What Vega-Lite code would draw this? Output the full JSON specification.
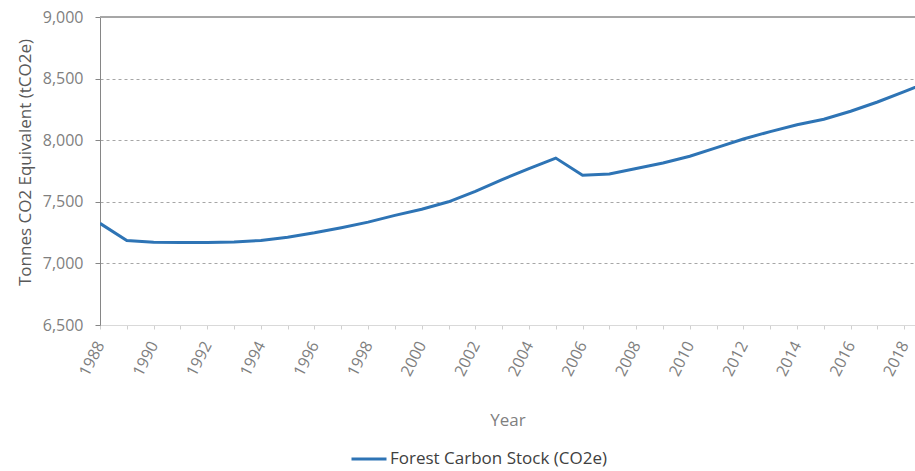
{
  "$schema": "https://vega.github.io/schema/vega-lite/v6.json",
  "width": 815,
  "height": 308,
  "autosize": {"type": "none"},
  "padding": {"left": 100, "top": 17, "right": 0, "bottom": 146},
  "background": "white",
  "config": {"view": {"stroke": null}, "font": "Open Sans"},
  "data": {
    "values": [
      {"year": 1988, "value": 7325, "series": "Forest Carbon Stock (CO2e)"},
      {"year": 1989, "value": 7185, "series": "Forest Carbon Stock (CO2e)"},
      {"year": 1990, "value": 7172, "series": "Forest Carbon Stock (CO2e)"},
      {"year": 1991, "value": 7170, "series": "Forest Carbon Stock (CO2e)"},
      {"year": 1992, "value": 7170, "series": "Forest Carbon Stock (CO2e)"},
      {"year": 1993, "value": 7174, "series": "Forest Carbon Stock (CO2e)"},
      {"year": 1994, "value": 7186, "series": "Forest Carbon Stock (CO2e)"},
      {"year": 1995, "value": 7212, "series": "Forest Carbon Stock (CO2e)"},
      {"year": 1996, "value": 7248, "series": "Forest Carbon Stock (CO2e)"},
      {"year": 1997, "value": 7290, "series": "Forest Carbon Stock (CO2e)"},
      {"year": 1998, "value": 7335, "series": "Forest Carbon Stock (CO2e)"},
      {"year": 1999, "value": 7390, "series": "Forest Carbon Stock (CO2e)"},
      {"year": 2000, "value": 7440, "series": "Forest Carbon Stock (CO2e)"},
      {"year": 2001, "value": 7500, "series": "Forest Carbon Stock (CO2e)"},
      {"year": 2002, "value": 7585, "series": "Forest Carbon Stock (CO2e)"},
      {"year": 2003, "value": 7680, "series": "Forest Carbon Stock (CO2e)"},
      {"year": 2004, "value": 7770, "series": "Forest Carbon Stock (CO2e)"},
      {"year": 2005, "value": 7855, "series": "Forest Carbon Stock (CO2e)"},
      {"year": 2006, "value": 7715, "series": "Forest Carbon Stock (CO2e)"},
      {"year": 2007, "value": 7725, "series": "Forest Carbon Stock (CO2e)"},
      {"year": 2008, "value": 7770, "series": "Forest Carbon Stock (CO2e)"},
      {"year": 2009, "value": 7815, "series": "Forest Carbon Stock (CO2e)"},
      {"year": 2010, "value": 7870, "series": "Forest Carbon Stock (CO2e)"},
      {"year": 2011, "value": 7940, "series": "Forest Carbon Stock (CO2e)"},
      {"year": 2012, "value": 8010, "series": "Forest Carbon Stock (CO2e)"},
      {"year": 2013, "value": 8070, "series": "Forest Carbon Stock (CO2e)"},
      {"year": 2014, "value": 8125, "series": "Forest Carbon Stock (CO2e)"},
      {"year": 2015, "value": 8170, "series": "Forest Carbon Stock (CO2e)"},
      {"year": 2016, "value": 8235, "series": "Forest Carbon Stock (CO2e)"},
      {"year": 2017, "value": 8310, "series": "Forest Carbon Stock (CO2e)"},
      {"year": 2018, "value": 8395, "series": "Forest Carbon Stock (CO2e)"},
      {"year": 2019, "value": 8480, "series": "Forest Carbon Stock (CO2e)"}
    ]
  },
  "layer": [
    {
      "mark": {"type": "rule", "color": "#a6a6a6", "strokeWidth": 1},
      "encoding": {"y": {"datum": 9000, "type": "quantitative"}}
    },
    {
      "mark": {"type": "line", "clip": true, "strokeWidth": 3, "color": "#2E74B5"},
      "encoding": {
        "x": {
          "field": "year",
          "type": "quantitative",
          "scale": {"domain": [1988, 2018.4], "nice": false, "zero": false},
          "axis": {
            "values": [1988,1989,1990,1991,1992,1993,1994,1995,1996,1997,1998,1999,2000,2001,2002,2003,2004,2005,2006,2007,2008,2009,2010,2011,2012,2013,2014,2015,2016,2017,2018],
            "format": "d",
            "labelExpr": "datum.value % 2 === 0 ? datum.label : ''",
            "labelOverlap": false,
            "labelAngle": -63,
            "labelPadding": 13,
            "labelColor": "#7f7f7f",
            "labelFontSize": 16,
            "grid": false,
            "domainColor": "#d9d9d9",
            "tickColor": "#d0d0d0",
            "tickSize": 4,
            "title": "Year",
            "titleColor": "#7f7f7f",
            "titleFontWeight": "normal",
            "titleFontSize": 17,
            "titlePadding": 34
          }
        },
        "y": {
          "field": "value",
          "type": "quantitative",
          "scale": {"domain": [6500, 9000], "nice": false, "zero": false},
          "axis": {
            "values": [6500, 7000, 7500, 8000, 8500, 9000],
            "format": ",d",
            "grid": true,
            "gridDash": [3, 3],
            "gridColor": "#a6a6a6",
            "domainColor": "#868686",
            "tickColor": "#868686",
            "tickSize": 5,
            "labelPadding": 12,
            "labelColor": "#7f7f7f",
            "labelFontSize": 16,
            "title": "Tonnes CO2 Equivalent (tCO2e)",
            "titleColor": "#595959",
            "titleFontWeight": "normal",
            "titleFontSize": 17,
            "titlePadding": 8,
            "titleY": 145
          }
        },
        "color": {
          "field": "series",
          "type": "nominal",
          "scale": {"range": ["#2E74B5"]},
          "legend": {
            "orient": "none",
            "legendX": 250,
            "legendY": 423,
            "title": null,
            "symbolType": "stroke",
            "symbolStrokeWidth": 3,
            "symbolSize": 1225,
            "labelFontSize": 17,
            "labelLimit": 400,
            "labelOffset": 2,
            "labelColor": "#404040"
          }
        }
      }
    }
  ]
}
